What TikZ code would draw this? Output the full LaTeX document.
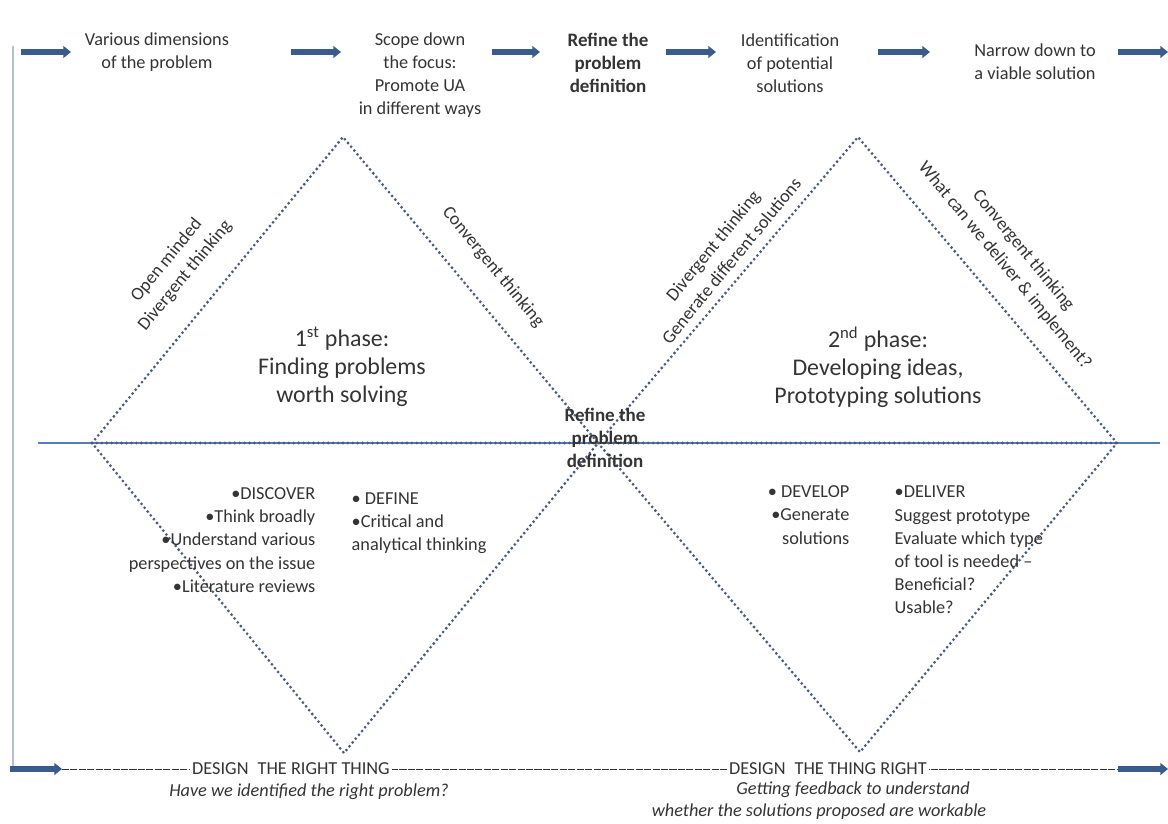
\documentclass[tikz,border=0pt]{standalone}
\usepackage{fontspec}
\setmainfont{Carlito}
\usetikzlibrary{arrows.meta,calc,positioning}
\definecolor{arrowblue}{RGB}{58,92,140}
\definecolor{dotblue}{RGB}{72,92,128}
\definecolor{axisblue}{RGB}{86,124,186}
\definecolor{frameblue}{RGB}{178,190,218}
\definecolor{ink}{RGB}{52,52,52}

\begin{document}
\begin{tikzpicture}[
    x=0.025cm,
    y=-0.025cm,
    flow/.style={-{Triangle[length=5.5pt,width=8.5pt]}, line width=3.9pt, arrowblue},
    edge/.style={dotblue, line width=2.2pt, line cap=round, dash pattern=on 0pt off 3.5pt},
    stage/.style={align=center, font=\fontsize{13}{16.3}\selectfont, text=ink, inner sep=1pt},
    phase/.style={align=center, font=\fontsize{17}{20}\selectfont, text=ink, inner sep=1pt},
    side/.style={align=center, font=\fontsize{13}{17}\selectfont, text=ink, inner sep=1pt},
    items/.style={font=\fontsize{13}{16.5}\selectfont, text=ink, inner sep=1pt},
    ask/.style={font=\itshape\fontsize{13}{16}\selectfont, text=ink, inner sep=1pt},
    design/.style={font=\fontsize{13}{16}\selectfont, text=ink, fill=white, inner sep=1.5pt}
]
\useasboundingbox (0,0) rectangle (1168,823);
\fill[white] (0,0) rectangle (1168,823);

% top row
\node[stage] (dims) at (157,52) {Various dimensions\\of the problem};
\node[stage] (scope) at (420,75) {Scope down\\the focus:\\Promote UA\\in different ways};
\node[stage, font=\bfseries\fontsize{13.5}{16.3}\selectfont] (refine) at (608,63) {Refine the\\problem\\definition};
\node[stage] (ident) at (790,63) {Identification\\of potential\\solutions};
\node[stage] (narrow) at (1035,62) {Narrow down to\\a viable solution};

\coordinate (a1s) at (21,52);  \coordinate (a1e) at (71,52);
\coordinate (a2s) at (291,52); \coordinate (a2e) at (341,52);
\coordinate (a3s) at (492,52); \coordinate (a3e) at (540,52);
\coordinate (a4s) at (666,52); \coordinate (a4e) at (716,52);
\coordinate (a5s) at (878,52); \coordinate (a5e) at (930,52);
\coordinate (a6s) at (1118,52); \coordinate (a6e) at (1168,52);
\foreach \i in {1,...,6}
    \draw[flow] (a\i s) -- (a\i e);

% frame and axis
\coordinate (frametop) at (13,46);
\coordinate (framebot) at (13,769);
\draw[frameblue, line width=1.6pt] (frametop) -- (framebot);
\coordinate (axisl) at (38,443);
\coordinate (axisr) at (1160,443);
\draw[axisblue, line width=0.8pt] (axisl) -- (axisr);

% diamonds
\coordinate (L) at (92,443);
\coordinate (T1) at (343,137);
\coordinate (M) at (598,443);
\coordinate (B1) at (344,753);
\coordinate (T2) at (858,137);
\coordinate (R) at (1117,443);
\coordinate (B2) at (860,752);
\draw[edge] (L) -- (T1) -- (M) -- (B1) -- cycle;
\draw[edge] (M) -- (T2) -- (R) -- (B2) -- cycle;
\draw[edge] (L) -- (R);

% slanted labels
\node[side, rotate=50.6] (open) at (176,268) {Open minded\\Divergent thinking};
\node[side, rotate=-50.6] (conv1) at (493,267) {Convergent thinking};
\node[side, rotate=50.6] (div2) at (722,253) {Divergent thinking\\Generate different solutions};
\node[side, rotate=-50.6] (conv2) at (1014,258) {Convergent thinking\\What can we deliver \& implement?};

% phases
\node[phase] (ph1) at (342,367) {1\textsuperscript{st} phase:\\Finding problems\\worth solving};
\node[phase] (ph2) at (878,367) {2\textsuperscript{nd} phase:\\Developing ideas,\\Prototyping solutions};
\node[stage, font=\bfseries\fontsize{13.5}{16.3}\selectfont] (mid) at (605,438) {Refine the\\problem\\definition};

% lower lists
\node[items, align=right, anchor=east] (discover) at (317,540) {•DISCOVER\\•Think broadly\\•Understand various\\perspectives on the issue\\•Literature reviews};
\node[items, align=left, anchor=west] (define) at (350,523) {• DEFINE\\•Critical and\\analytical thinking};
\node[items, align=right, anchor=east] (develop) at (851,515) {• DEVELOP\\•Generate\\solutions};
\node[items, align=left, anchor=west] (deliver) at (893,550) {•DELIVER\\Suggest prototype\\Evaluate which type\\of tool is needed –\\Beneficial?\\Usable?};

% bottom line
\coordinate (b1s) at (10,769);  \coordinate (b1e) at (62,769);
\coordinate (b2s) at (1118,769); \coordinate (b2e) at (1168,769);
\draw[ink, line width=0.7pt, dash pattern=on 5pt off 1pt] (b1e) -- (b2s);
\draw[flow] (b1s) -- (b1e);
\draw[flow] (b2s) -- (b2e);
\node[design] (right1) at (291,769) {DESIGN\enspace THE RIGHT THING};
\node[design] (right2) at (828,769) {DESIGN\enspace THE THING RIGHT};
\node[ask] (q1) at (309,792) {Have we identified the right problem?};
\node[ask] (q2) at (853,790) {Getting feedback to understand};
\node[ask] (q3) at (819,812) {whether the solutions proposed are workable};
\end{tikzpicture}
\end{document}
